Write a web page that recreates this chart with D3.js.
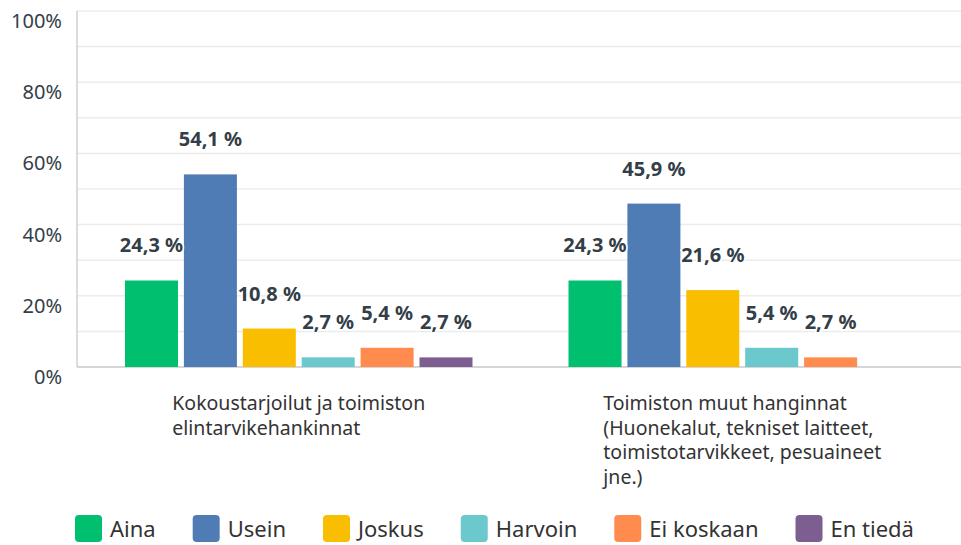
<!DOCTYPE html>
<html>
<head>
<meta charset="utf-8">
<script src="https://cdn.jsdelivr.net/npm/d3@7"></script>
<style>
  body { margin: 0; background: #fff; }
  svg { font-family: "Noto Sans", sans-serif; }
</style>
</head>
<body>
<script>
// chart data
const categories = [
  "Kokoustarjoilut ja toimiston elintarvikehankinnat",
  "Toimiston muut hanginnat (Huonekalut, tekniset laitteet, toimistotarvikkeet, pesuaineet jne.)"
];
const series = ["Aina", "Usein", "Joskus", "Harvoin", "Ei koskaan", "En tiedä"];
const valuesFood = [24.3, 54.1, 10.8, 2.7, 5.4, 2.7];
const valuesOther = [24.3, 45.9, 21.6, 5.4, 2.7, 0];
const yTicks = [0, 20, 40, 60, 80, 100];

const colors = ["#00bf6f", "#507cb6", "#f9be00", "#6bc8cd", "#ff8b4f", "#7d5e90"];

const W = 961, H = 545;
const plotLeft = 77, plotRight = 964, plotTop = 11, plotBottom = 367;

const svg = d3.select("body").append("svg")
  .attr("width", W).attr("height", H);

const color = d3.scaleOrdinal().domain(series).range(colors);

const x0 = d3.scaleBand().domain(categories).range([plotLeft, plotRight]);
const x1 = d3.scaleBand().domain(series)
  .range([48, x0.bandwidth() - 48]).paddingInner(0.1);
const y = d3.scaleLinear().domain([0, 100]).range([plotBottom, plotTop]);

// gridlines
svg.append("g").selectAll("line")
  .data(d3.range(10, 101, 10))
  .enter().append("line")
  .attr("x1", plotLeft).attr("x2", plotRight)
  .attr("y1", d => y(d)).attr("y2", d => y(d))
  .attr("stroke", "#ececec").attr("stroke-width", 1.5);

// axis lines
svg.append("line")
  .attr("x1", plotLeft).attr("x2", plotLeft)
  .attr("y1", y(100)).attr("y2", y(0))
  .attr("stroke", "#d0d0d0").attr("stroke-width", 1.5);
svg.append("line")
  .attr("x1", plotLeft).attr("x2", plotRight)
  .attr("y1", y(0)).attr("y2", y(0))
  .attr("stroke", "#c8c8c8").attr("stroke-width", 1.5);

// y tick labels (sit a little below their gridline)
svg.append("g").selectAll("text")
  .data(yTicks)
  .enter().append("text")
  .attr("x", 62)
  .attr("y", d => y(d) + 17)
  .attr("text-anchor", "end")
  .attr("font-size", 20)
  .attr("fill", "#333e48")
  .text(d => d + "%");

const rows = [valuesFood, valuesOther].map((vals, i) => ({
  cat: categories[i],
  items: series.map((s, j) => ({ s: s, v: vals[j] }))
}));

const groups = svg.selectAll(".grp")
  .data(rows)
  .enter().append("g")
  .attr("class", "grp")
  .attr("transform", d => `translate(${x0(d.cat)},0)`);

groups.selectAll("rect")
  .data(d => d.items.filter(e => e.v > 0))
  .enter().append("rect")
  .attr("x", d => x1(d.s))
  .attr("y", d => y(d.v))
  .attr("width", x1.bandwidth())
  .attr("height", d => y(0) - y(d.v))
  .attr("fill", d => color(d.s));

groups.selectAll(".val")
  .data(d => d.items.filter(e => e.v > 0))
  .enter().append("text")
  .attr("class", "val")
  .attr("x", d => x1(d.s) + x1.bandwidth() / 2)
  .attr("y", d => y(d.v) - 28)
  .attr("text-anchor", "middle")
  .attr("font-size", 20)
  .attr("font-weight", "bold")
  .attr("fill", "#333e48")
  .attr("stroke", "#fff").attr("stroke-width", 3)
  .attr("paint-order", "stroke")
  .text(d => d.v.toFixed(1).replace(".", ",") + " %");

// category labels, wrapped and centred as a block under each group
groups.each(function(d) {
  const g = d3.select(this);
  const t = g.append("text")
    .attr("font-size", 19.5)
    .attr("fill", "#333");
  const words = d.cat.split(" ");
  const lines = [];
  let line = [];
  const probe = t.append("tspan");
  words.forEach(w => {
    line.push(w);
    probe.text(line.join(" "));
    if (probe.node().getComputedTextLength() > 300 && line.length > 1) {
      line.pop();
      lines.push(line.join(" "));
      line = [w];
    }
  });
  lines.push(line.join(" "));
  probe.remove();
  let maxW = 0;
  const spans = lines.map((l, i) => {
    const s = t.append("tspan").attr("dy", i === 0 ? 0 : 24.5).text(l);
    maxW = Math.max(maxW, s.node().getComputedTextLength());
    return s;
  });
  const x = x0.bandwidth() / 2 - maxW / 2;
  t.attr("y", 410);
  spans.forEach(s => s.attr("x", x));
});

// legend
const legend = svg.append("g");
let lx = 75;
series.forEach(s => {
  legend.append("rect")
    .attr("x", lx).attr("y", 515)
    .attr("width", 27).attr("height", 27)
    .attr("rx", 4)
    .attr("fill", color(s));
  const txt = legend.append("text")
    .attr("x", lx + 35).attr("y", 537)
    .attr("font-size", 22)
    .attr("fill", "#333")
    .text(s);
  lx += 35 + txt.node().getComputedTextLength() + 37;
});
</script>
</body>
</html>
